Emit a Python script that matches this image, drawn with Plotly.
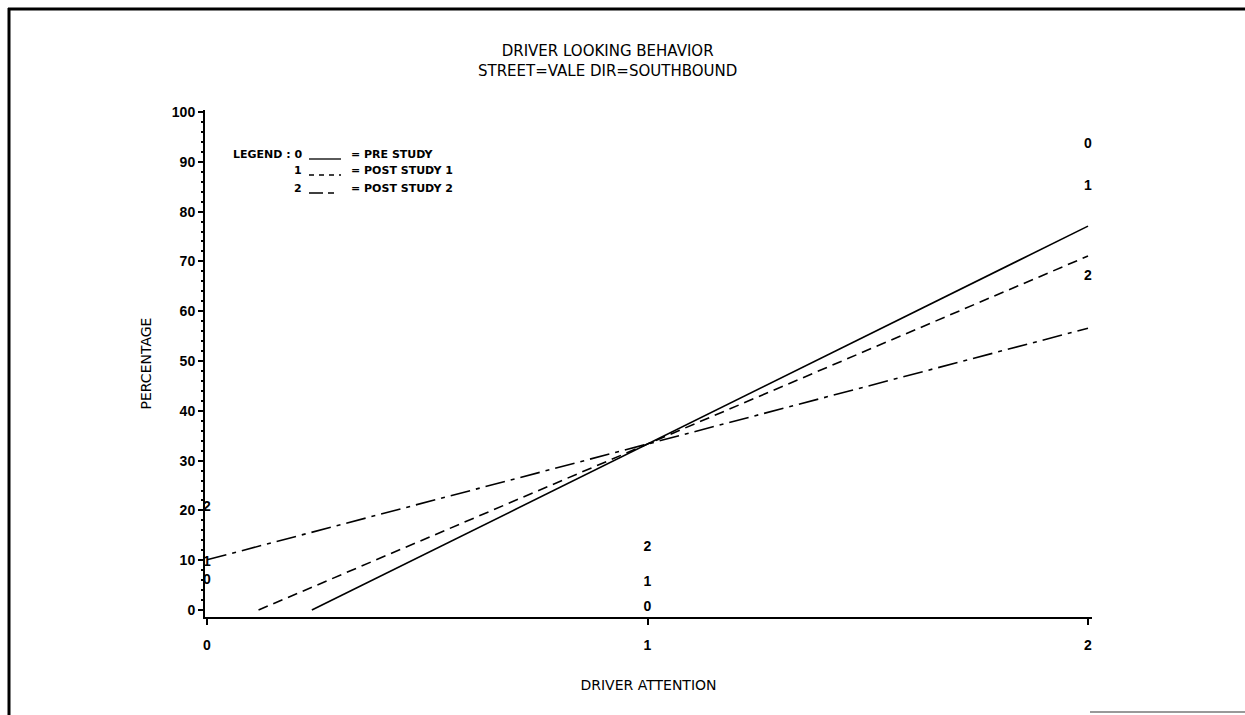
import numpy as np
import plotly.graph_objects as go

# ---- data ----
attention = [0, 1, 2]
pre_study = [6.0, 0.5, 93.5]
post_study_1 = [9.5, 5.5, 85.0]
post_study_2 = [20.5, 12.5, 67.0]
group_symbols = ["0", "1", "2"]
group_names = ["PRE STUDY", "POST STUDY 1", "POST STUDY 2"]
x_ticks = [0, 1, 2]
y_ticks = [0, 10, 20, 30, 40, 50, 60, 70, 80, 90, 100]

series = [pre_study, post_study_1, post_study_2]
dashes = ["solid", "10px,6px", "20px,6px,4px,6px"]

FONT = "Liberation Sans"
TFONT = "DejaVu Sans"
fig = go.Figure()

# regression lines (least-squares fit of each group), clipped at y=0
for vals, dash in zip(series, dashes):
    m, b = np.polyfit(attention, vals, 1)
    xs = max(attention[0], -b / m) if m > 0 and b < 0 else attention[0]
    xl = [xs, attention[-1]]
    yl = [m * v + b for v in xl]
    fig.add_trace(go.Scatter(x=xl, y=yl, mode="lines",
                             line=dict(color="black", width=1.6, dash=dash),
                             showlegend=False, hoverinfo="skip"))

# plotting symbols as characters
for vals, sym in zip(series, group_symbols):
    fig.add_trace(go.Scatter(x=attention, y=vals, mode="text",
                             text=[sym] * len(vals), textposition="middle center",
                             textfont=dict(family=FONT, size=14, color="black", weight="bold"),
                             cliponaxis=False, showlegend=False, hoverinfo="skip"))

# plot-area geometry in px
L, R, T, B = 205, 1092, 110, 617
W, H = R - L, B - T
def px(x):
    return (x - L) / W
def py(y):
    return (B - y) / H

annotations = []
shapes = []
# title
annotations.append(dict(text="DRIVER LOOKING BEHAVIOR<br>STREET=VALE DIR=SOUTHBOUND",
                        xref="paper", yref="paper", x=px(607), y=py(61),
                        xanchor="center", yanchor="middle", showarrow=False,
                        font=dict(family=TFONT, size=15, color="black")))
# legend block
rows_y = [154, 170, 188]
for i, (sym, name, dash) in enumerate(zip(group_symbols, group_names, dashes)):
    label = ("LEGEND : " + sym) if i == 0 else sym
    annotations.append(dict(text=label, xref="paper", yref="paper",
                            x=px(304), y=py(rows_y[i]), xanchor="right", yanchor="middle",
                            showarrow=False,
                            font=dict(family=TFONT, size=11, color="black", weight="bold")))
    annotations.append(dict(text="= " + name, xref="paper", yref="paper",
                            x=px(349), y=py(rows_y[i]), xanchor="left", yanchor="middle",
                            showarrow=False,
                            font=dict(family=TFONT, size=11, color="black", weight="bold")))
    ldash = ["solid", "5px,5px", "14px,5px,6px"][i]
    shapes.append(dict(type="line", xref="paper", yref="paper",
                       x0=px(309), x1=px(341), y0=py(rows_y[i] + 5), y1=py(rows_y[i] + 5),
                       line=dict(color="black", width=1.3, dash=ldash)))

# page frame (scan border)
shapes.append(dict(type="line", xref="paper", yref="paper",
                   x0=px(8), x1=px(1245), y0=py(9), y1=py(9),
                   line=dict(color="black", width=3)))
shapes.append(dict(type="line", xref="paper", yref="paper",
                   x0=px(9), x1=px(9), y0=py(8), y1=py(715),
                   line=dict(color="black", width=3)))
shapes.append(dict(type="line", xref="paper", yref="paper",
                   x0=px(1090), x1=px(1245), y0=py(712), y1=py(712),
                   line=dict(color="#999999", width=2)))

x0v = -(207 - L) / 441
fig.update_layout(
    width=1245, height=715,
    margin=dict(l=L, r=1245 - R, t=T, b=715 - B),
    paper_bgcolor="white", plot_bgcolor="white",
    annotations=annotations, shapes=shapes,
    xaxis=dict(range=[x0v, 2 + (R - 1088) / 441], tickvals=x_ticks,
               ticktext=[str(v) for v in x_ticks],
               showgrid=False, zeroline=False, showline=True, linecolor="black", linewidth=2,
               ticks="outside", ticklen=6, tickwidth=1.5, tickcolor="black",
               ticklabelstandoff=8,
               tickfont=dict(family=FONT, size=14, color="black", weight="bold"),
               title=dict(text="DRIVER ATTENTION", standoff=28,
                          font=dict(family=TFONT, size=14, color="black"))),
    yaxis=dict(range=[-1.4, 100.4], tickvals=y_ticks,
               showgrid=False, zeroline=False, showline=True, linecolor="black", linewidth=2,
               ticks="outside", ticklen=5, tickwidth=1.5, tickcolor="black",
               minor=dict(dtick=2, ticks="outside", ticklen=2, tickcolor="black", showgrid=False),
               tickfont=dict(family=FONT, size=14, color="black", weight="bold"),
               title=dict(text="PERCENTAGE", standoff=17,
                          font=dict(family=TFONT, size=14, color="black"))),
    showlegend=False,
)

fig.write_html("out.html", config={"displayModeBar": False},
               post_script="document.body.style.margin='0';")
